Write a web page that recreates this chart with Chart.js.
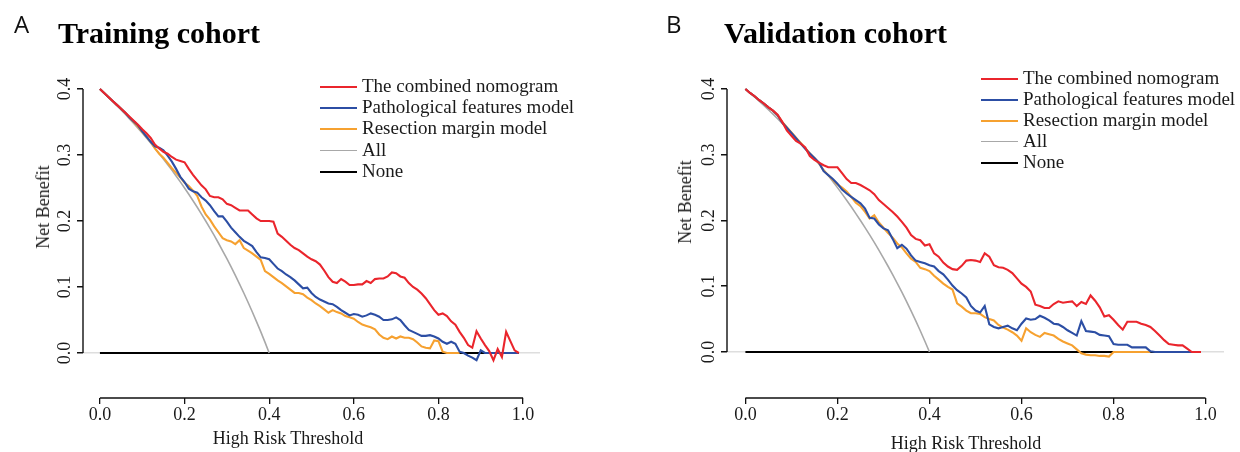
<!DOCTYPE html>
<html>
<head>
<meta charset="utf-8">
<script src="https://cdn.jsdelivr.net/npm/chart.js@4.4.1/dist/chart.umd.min.js"></script>
<style>
  body { margin: 0; background: #fff; overflow: hidden; }
  #wrap { position: relative; width: 1240px; height: 452px; font-family: 'Liberation Serif', 'Times New Roman', serif; color: #1a1a1a; }
  .panel { position: absolute; top: 0; width: 620px; height: 452px; }
  .txt { position: absolute; white-space: nowrap; }
  .letter { font-family: 'Open Sans', sans-serif; font-size: 24px; line-height: 24px; color: #111; }
  .title { font-weight: bold; font-size: 30px; line-height: 30px; color: #000; }
  .axt { font-size: 18px; line-height: 18px; transform: translate(-50%, -50%); }
  .axt.rot { transform: translate(-50%, -50%) rotate(-90deg); }
  .leg { font-size: 19px; line-height: 21px; height: 21px; }
  .swatch { position: absolute; height: 0; width: 37px; }
</style>
</head>
<body>
<div id="wrap">
  <div class="panel" style="left:0"><canvas id="chartA" width="620" height="452"></canvas></div>
  <div class="panel" style="left:620px"><canvas id="chartB" width="620" height="452"></canvas></div>
</div>
<script>
// thresholds 0.00 .. 0.99
const thresholds = [0.00,0.01,0.02,0.03,0.04,0.05,0.06,0.07,0.08,0.09,0.10,0.11,0.12,0.13,0.14,0.15,0.16,0.17,0.18,0.19,
  0.20,0.21,0.22,0.23,0.24,0.25,0.26,0.27,0.28,0.29,0.30,0.31,0.32,0.33,0.34,0.35,0.36,0.37,0.38,0.39,
  0.40,0.41,0.42,0.43,0.44,0.45,0.46,0.47,0.48,0.49,0.50,0.51,0.52,0.53,0.54,0.55,0.56,0.57,0.58,0.59,
  0.60,0.61,0.62,0.63,0.64,0.65,0.66,0.67,0.68,0.69,0.70,0.71,0.72,0.73,0.74,0.75,0.76,0.77,0.78,0.79,
  0.80,0.81,0.82,0.83,0.84,0.85,0.86,0.87,0.88,0.89,0.90,0.91,0.92,0.93,0.94,0.95,0.96,0.97,0.98,0.99];

const seriesNames = ['The combined nomogram', 'Pathological features model', 'Resection margin model', 'All', 'None'];
const seriesColors = ['#ea252c', '#2c4ea4', '#f6a130', '#a8a8a8', '#000000'];

const xTicks = [0, 0.2, 0.4, 0.6, 0.8, 1.0];
const yTicks = [0, 0.1, 0.2, 0.3, 0.4];

// treat-all curve (same prevalence in both cohorts)
const allValues = [0.4000,0.3939,0.3878,0.3814,0.3750,0.3684,0.3617,0.3548,0.3478,0.3407,0.3333,0.3258,0.3182,0.3103,0.3023,0.2941,
  0.2857,0.2771,0.2683,0.2593,0.2500,0.2405,0.2308,0.2208,0.2105,0.2000,0.1892,0.1781,0.1667,0.1549,0.1429,0.1304,
  0.1176,0.1045,0.0909,0.0769,0.0625,0.0476,0.0323,0.0164,0.0000];
const noneThresholds = [0, 0.99];
const noneValues = [0, 0];

// Training cohort
const trainCombined = [.400,.394,.388,.382,.376,.370,.364,.358,.352,.346,.339,.333,.326,.316,.310,.305,.302,.297,.293,.291,
  .289,.279,.270,.262,.254,.248,.238,.236,.236,.233,.226,.224,.220,.216,.216,.216,.210,.204,.200,.200,
  .200,.199,.181,.176,.170,.164,.159,.156,.151,.146,.142,.139,.134,.125,.115,.108,.106,.112,.108,.103,
  .103,.104,.104,.109,.106,.112,.113,.113,.116,.122,.121,.116,.114,.106,.100,.096,.090,.083,.074,.065,
  .058,.060,.056,.048,.043,.032,.023,.012,.008,.033,.022,.012,.003,-.011,.006,-.006,.032,.018,.004,.000];
const trainPathological = [.400,.394,.388,.382,.376,.370,.364,.357,.351,.345,.336,.328,.320,.313,.311,.307,.299,.290,.279,.267,
  .259,.249,.245,.243,.236,.231,.224,.215,.207,.207,.199,.190,.183,.176,.170,.166,.162,.153,.145,.144,
  .142,.135,.128,.124,.119,.115,.110,.104,.098,.099,.091,.085,.081,.078,.075,.074,.070,.065,.061,.057,
  .059,.058,.055,.057,.060,.058,.055,.050,.050,.051,.054,.050,.042,.035,.032,.029,.026,.026,.027,.025,
  .022,.017,.014,.017,.014,.002,.000,-.004,-.007,-.011,.004,.000,.000,.000,.000,.000,.000,.000,.000,.000];
const trainMargin = [.400,.394,.388,.382,.376,.370,.364,.357,.350,.343,.335,.328,.320,.310,.302,.296,.288,.280,.273,.266,
  .258,.253,.246,.238,.222,.210,.202,.192,.183,.174,.171,.169,.165,.171,.159,.155,.151,.146,.141,.124,
  .120,.115,.110,.106,.101,.096,.091,.091,.089,.084,.080,.075,.071,.066,.061,.065,.062,.060,.056,.054,
  .052,.047,.043,.041,.039,.036,.028,.023,.021,.025,.022,.025,.023,.023,.021,.016,.010,.008,.007,.019,
  .018,.002,.000,.000,.000,.000];

// Validation cohort
const validCombined = [.400,.394,.389,.383,.378,.372,.367,.361,.350,.337,.329,.321,.317,.311,.298,.292,.288,.284,.281,.281,
  .281,.272,.263,.257,.257,.254,.250,.246,.240,.231,.225,.219,.213,.206,.198,.189,.178,.172,.170,.162,
  .164,.150,.145,.136,.130,.126,.125,.131,.139,.140,.139,.137,.150,.145,.132,.129,.128,.125,.120,.112,
  .104,.099,.092,.072,.070,.067,.067,.073,.077,.075,.076,.077,.070,.076,.073,.086,.078,.068,.054,.056,
  .049,.041,.034,.046,.046,.046,.043,.041,.038,.032,.025,.018,.012,.011,.010,.010,.005,.000,.000,.000];
const validPathological = [.400,.394,.389,.383,.378,.372,.367,.360,.349,.341,.333,.325,.317,.309,.302,.295,.288,.275,.269,.263,
  .256,.247,.241,.236,.231,.226,.218,.204,.203,.194,.188,.185,.172,.158,.163,.157,.147,.139,.137,.135,
  .132,.130,.123,.118,.110,.101,.094,.089,.083,.070,.063,.060,.070,.042,.038,.036,.038,.040,.036,.033,
  .043,.051,.049,.050,.055,.052,.048,.043,.042,.038,.033,.029,.025,.047,.032,.031,.030,.026,.025,.024,
  .012,.011,.011,.011,.007,.007,.007,.007,.001,.000,.000,.000,.000,.000,.000,.000,.000,.000];
const validMargin = [.400,.394,.389,.383,.378,.372,.367,.360,.350,.342,.334,.326,.318,.310,.302,.295,.287,.276,.269,.262,
  .255,.250,.244,.236,.227,.222,.213,.203,.208,.197,.189,.181,.174,.165,.159,.150,.142,.137,.128,.126,
  .123,.116,.110,.104,.099,.095,.074,.069,.063,.059,.059,.058,.053,.050,.048,.041,.037,.034,.030,.025,
  .017,.036,.030,.026,.023,.029,.027,.025,.020,.016,.013,.010,.004,-.002,-.004,-.005,-.005,-.006,-.006,-.007,
  .000,.000,.000,.000,.000,.000,.000,.000,.000];

function pts(xs, ys) {
  return ys.map((v, i) => ({ x: xs[i], y: v }));
}

const axisLines = {
  id: 'axisLines',
  afterDraw(chart) {
    const { ctx, chartArea, scales: { x, y } } = chart;
    ctx.save();
    ctx.strokeStyle = '#111';
    ctx.lineWidth = 1.4;
    ctx.beginPath();
    ctx.moveTo(x.getPixelForValue(0), chartArea.bottom);
    ctx.lineTo(x.getPixelForValue(1), chartArea.bottom);
    ctx.moveTo(chartArea.left, y.getPixelForValue(0));
    ctx.lineTo(chartArea.left, y.getPixelForValue(0.4));
    ctx.stroke();
    ctx.restore();
  }
};

function makeChart(id, series, box) {
  const tickFont = { family: 'Liberation Serif', size: 18 };
  const lines = [
    pts(thresholds, series[0]),
    pts(thresholds, series[1]),
    pts(thresholds, series[2]),
    pts(thresholds, allValues),
    pts(noneThresholds, noneValues)
  ];
  new Chart(document.getElementById(id), {
    type: 'line',
    data: {
      datasets: lines.map((d, i) => ({
        label: seriesNames[i],
        data: d,
        borderColor: seriesColors[i],
        borderWidth: i === 3 ? 1.6 : 2.1,
        pointRadius: 0,
        tension: 0,
        fill: false
      }))
    },
    options: {
      responsive: false,
      animation: false,
      layout: { padding: { top: 80, right: box.padRight, bottom: 0, left: 0 } },
      plugins: { legend: { display: false }, tooltip: { enabled: false } },
      scales: {
        x: {
          type: 'linear',
          min: -0.04,
          max: 1.04,
          afterBuildTicks: s => { s.ticks = xTicks.map(v => ({ value: v })); },
          afterFit: s => { s.height = 54; },
          border: { display: false },
          grid: { drawOnChartArea: false, tickLength: 6, color: '#111', tickColor: '#111', lineWidth: 1.3 },
          ticks: { font: tickFont, color: '#1a1a1a', padding: 0, maxRotation: 0, callback: v => v.toFixed(1) }
        },
        y: {
          type: 'linear',
          min: box.yMin,
          max: 0.4137,
          afterBuildTicks: s => { s.ticks = yTicks.map(v => ({ value: v })); },
          afterFit: s => { s.width = box.yWidth; },
          border: { display: false },
          grid: {
            color: c => (c.tick && c.tick.value === 0 ? '#dedede' : 'rgba(0,0,0,0)'),
            lineWidth: 1.5,
            tickLength: 6,
            tickColor: '#111'
          },
          ticks: { font: tickFont, color: '#1a1a1a', padding: 0, minRotation: 90, maxRotation: 90, crossAlign: 'center', callback: v => v.toFixed(1) }
        }
      }
    },
    plugins: [axisLines]
  });
}

makeChart('chartA', [trainCombined, trainPathological, trainMargin], { padRight: 80, yWidth: 83, yMin: -0.0682 });
makeChart('chartB', [validCombined, validPathological, validMargin], { padRight: 16, yWidth: 107, yMin: -0.07 });

// text overlays
const wrap = document.getElementById('wrap');
function addText(cls, text, left, top, style) {
  const d = document.createElement('div');
  d.className = 'txt ' + cls;
  d.textContent = text;
  d.style.left = left + 'px';
  d.style.top = top + 'px';
  if (style) Object.assign(d.style, style);
  wrap.appendChild(d);
  return d;
}
addText('letter', 'A', 14, 12);
addText('letter', 'B', 666, 12);
addText('title', 'Training cohort', 58, 18);
addText('title', 'Validation cohort', 724, 18);
addText('axt rot', 'Net Benefit', 43, 207);
addText('axt rot', 'Net Benefit', 685, 202);
addText('axt', 'High Risk Threshold', 288, 438);
addText('axt', 'High Risk Threshold', 966, 443);

function addLegend(x, y0, step) {
  seriesNames.forEach((name, i) => {
    const top = y0 + i * step - 10.5;
    addText('leg', name, x + 42, top);
    const sw = document.createElement('div');
    sw.className = 'swatch';
    sw.style.left = x + 'px';
    sw.style.top = (top + 11) + 'px';
    sw.style.borderTop = (i === 3 ? 1.6 : 2) + 'px solid ' + seriesColors[i];
    wrap.appendChild(sw);
  });
}
addLegend(320, 85, 21.4);
addLegend(981, 77, 21);
</script>
</body>
</html>
